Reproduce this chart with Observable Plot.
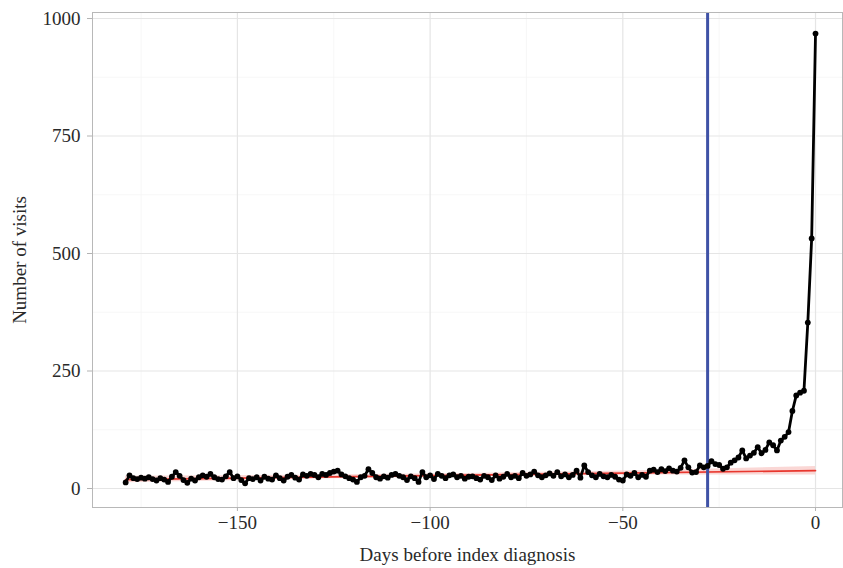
<!DOCTYPE html>
<html><head><meta charset="utf-8">
<script src="https://cdn.jsdelivr.net/npm/d3@7"></script>
<script src="https://cdn.jsdelivr.net/npm/@observablehq/plot@0.6"></script>
<style>body{margin:0;background:#fff}</style>
</head><body><div id="chart"></div>
<script>
// Days before index diagnosis, starting at firstDay and ending at 0
const firstDay = -179;
const visits = [
  13, 28, 22, 20, 23, 21, 24, 20, 17, 22,
  19, 14, 25, 35, 27, 18, 12, 21, 17, 24,
  28, 25, 31, 24, 20, 19, 26, 35, 22, 26,
  18, 11, 22, 20, 24, 17, 25, 21, 19, 28,
  22, 17, 25, 29, 23, 19, 30, 27, 31, 29,
  24, 31, 29, 33, 36, 38, 30, 26, 22, 19,
  14, 24, 27, 41, 33, 24, 21, 26, 23, 29,
  31, 27, 24, 18, 26, 22, 14, 35, 24, 28,
  20, 31, 27, 22, 28, 30, 24, 27, 21, 25,
  26, 22, 19, 27, 24, 18, 28, 21, 25, 31,
  24, 27, 22, 33, 27, 30, 36, 28, 24, 28,
  32, 27, 35, 26, 30, 24, 29, 38, 23, 49,
  35, 28, 24, 31, 26, 24, 29, 25, 19, 17,
  30, 27, 33, 24, 29, 25, 38, 40, 35, 41,
  37, 43, 38, 36, 44, 60, 45, 34, 35, 49,
  45, 48, 58, 52, 50, 42, 45, 55, 60, 66,
  81, 64, 70, 76, 88, 75, 82, 98, 92, 81,
  102, 110, 120, 165, 198, 204, 208, 353, 532, 968
];
const markerDay = -28;

// Linear trend with confidence band
const trendDays = [-179, -135, -90, -45, 0];
const trendFit  = [19, 23.7, 28.5, 33.2, 38];
const trendLow  = [12, 19.5, 25, 28.5, 29];
const trendHigh = [26, 28, 32, 38, 47];

const xMajor = [-150, -100, -50, 0];
const xMinor = [-175, -125, -75, -25];
const yMajor = [0, 250, 500, 750, 1000];
const yMinor = [125, 375, 625, 875];

const data = visits.map((v, i) => ({day: firstDay + i, visits: v}));
const trend = trendDays.map((d, i) => ({day: d, fit: trendFit[i], lo: trendLow[i], hi: trendHigh[i]}));
const fmt = d => d < 0 ? "\u2212" + Math.abs(d) : String(d);

const chart = Plot.plot({
  width: 843, height: 568,
  marginLeft: 92, marginRight: 1, marginTop: 12, marginBottom: 61,
  style: {fontFamily: "'Liberation Serif', 'DejaVu Serif', serif", fontSize: "20px", background: "#fff", color: "#222"},
  x: {domain: [-187.6, 7.0]},
  y: {domain: [-40.4, 1012.8]},
  marks: [
    Plot.gridX(xMinor, {stroke: "#f3f3f3", strokeOpacity: 1, strokeWidth: 0.7}),
    Plot.gridY(yMinor, {stroke: "#f3f3f3", strokeOpacity: 1, strokeWidth: 0.7}),
    Plot.gridX(xMajor, {stroke: "#e5e5e5", strokeOpacity: 1, strokeWidth: 1.2}),
    Plot.gridY(yMajor, {stroke: "#e5e5e5", strokeOpacity: 1, strokeWidth: 1.2}),
    Plot.areaY(trend, {x: "day", y1: "lo", y2: "hi", fill: "#f7bcb9", fillOpacity: 0.6}),
    Plot.lineY(trend, {x: "day", y: "fit", stroke: "#e8372e", strokeWidth: 1.6}),
    Plot.ruleX([markerDay], {stroke: "#3f52a6", strokeWidth: 3}),
    Plot.line(data, {x: "day", y: "visits", stroke: "#000", strokeWidth: 2.8}),
    Plot.dot(data, {x: "day", y: "visits", fill: "#000", r: 2.9}),
    Plot.frame({stroke: "#b8b8b8"}),
    Plot.axisX(xMajor, {tickSize: 4, tickPadding: 4, stroke: "#b3b3b3", fill: "#2a2a2a", fontSize: 19, tickFormat: fmt,
      label: "Days before index diagnosis", labelAnchor: "center", labelArrow: "none", labelOffset: 53}),
    Plot.axisY(yMajor, {tickSize: 5, tickPadding: 7, stroke: "#b3b3b3", fill: "#2a2a2a", fontSize: 19, tickFormat: fmt,
      label: "Number of visits", labelAnchor: "center", labelArrow: "none", labelOffset: 80})
  ]
});
document.getElementById("chart").appendChild(chart);
</script>
</body></html>
